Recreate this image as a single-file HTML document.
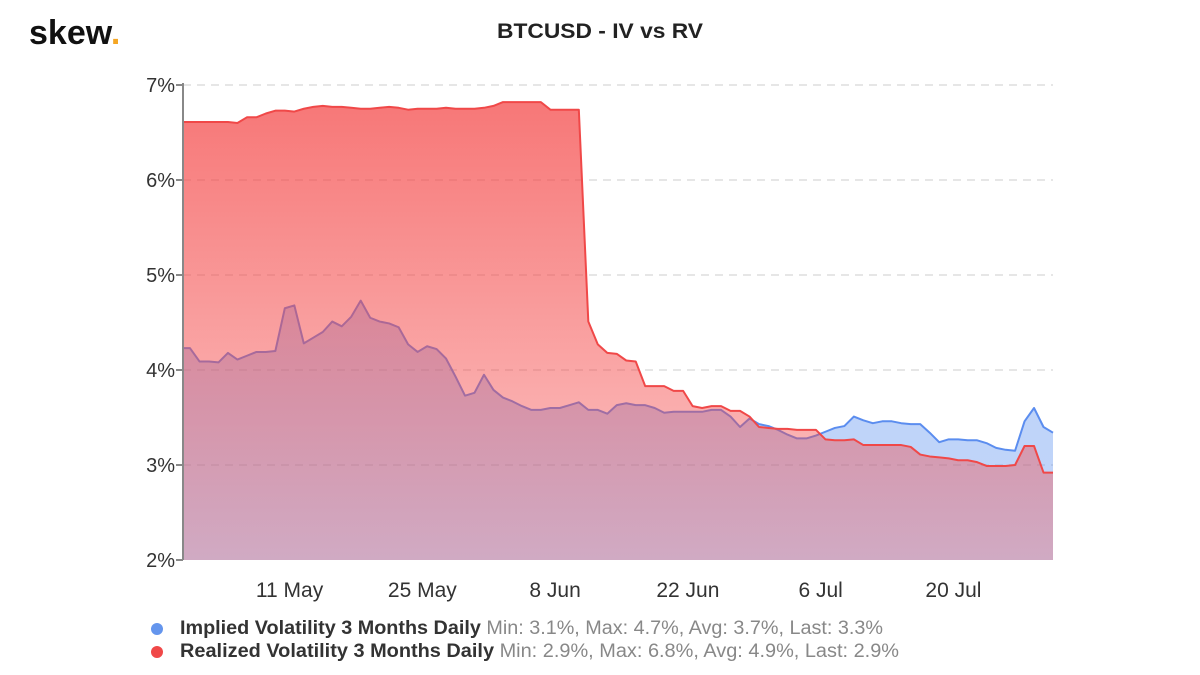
<!DOCTYPE html>
<html><head><meta charset="utf-8"><style>
body{margin:0;background:#fff;width:1200px;height:670px;overflow:hidden;font-family:"Liberation Sans",sans-serif;}
</style></head><body>
<svg width="1200" height="670">
<defs>
<linearGradient id="rg" x1="0" y1="85" x2="0" y2="560" gradientUnits="userSpaceOnUse">
<stop offset="0" stop-color="rgb(244,70,70)" stop-opacity="0.75"/>
<stop offset="1" stop-color="rgb(244,70,70)" stop-opacity="0.3"/>
</linearGradient>
<linearGradient id="bg" x1="0" y1="85" x2="0" y2="560" gradientUnits="userSpaceOnUse">
<stop offset="0" stop-color="rgb(100,150,240)" stop-opacity="0.45"/>
<stop offset="1" stop-color="rgb(100,150,240)" stop-opacity="0.4"/>
</linearGradient>
</defs>
<text x="29" y="44" font-size="34" font-weight="bold" fill="#111">skew<tspan fill="#f5a623">.</tspan></text>
<text x="600" y="38" font-size="21" font-weight="bold" fill="#222" text-anchor="middle" textLength="206" lengthAdjust="spacingAndGlyphs">BTCUSD - IV vs RV</text>
<g id="grid"></g>
<g id="series"></g>
<g id="axes"></g>
<g>
<g>
<circle cx="157" cy="629" r="6" fill="#6495ed"/>
<text x="180" y="634" font-size="19" fill="#333" textLength="703" lengthAdjust="spacingAndGlyphs"><tspan font-weight="bold">Implied Volatility 3 Months Daily</tspan><tspan fill="#888"> Min: 3.1%, Max: 4.7%, Avg: 3.7%, Last: 3.3%</tspan></text>
</g>
<g>
<circle cx="157" cy="652" r="6" fill="#f04848"/>
<text x="180" y="657" font-size="19" fill="#333" textLength="719" lengthAdjust="spacingAndGlyphs"><tspan font-weight="bold">Realized Volatility 3 Months Daily</tspan><tspan fill="#888"> Min: 2.9%, Max: 6.8%, Avg: 4.9%, Last: 2.9%</tspan></text>
</g>
</g>
</svg>
<script>
const ivValues=[4.23,4.09,4.09,4.08,4.18,4.11,4.15,4.19,4.19,4.20,4.65,4.68,4.28,4.34,4.40,4.51,4.46,4.56,4.73,4.55,4.51,4.49,4.45,4.27,4.19,4.25,4.22,4.12,3.93,3.73,3.76,3.95,3.79,3.71,3.67,3.62,3.58,3.58,3.60,3.60,3.63,3.66,3.58,3.58,
3.54,3.63,3.65,3.63,3.63,3.60,3.55,3.56,3.56,3.56,3.56,3.58,3.58,3.51,3.40,3.49,3.43,3.41,3.37,3.32,3.28,3.28,3.31,3.35,3.39,3.41,3.51,3.47,3.44,3.46,3.46,3.44,3.43,3.43,3.34,3.24,3.27,3.27,3.26,3.26,3.23,3.18,3.16,3.15,3.46,3.60,3.40,3.34];
const rvValues=[6.61,6.61,6.61,6.61,6.61,6.60,6.66,6.66,6.70,6.73,6.73,6.72,6.75,6.77,6.78,6.77,6.77,6.76,6.75,6.75,6.76,6.77,6.76,6.74,6.75,6.75,6.75,6.76,6.75,6.75,6.75,6.76,6.78,6.82,6.82,6.82,6.82,6.82,6.74,6.74,6.74,6.74,4.51,4.27,
4.18,4.17,4.10,4.09,3.83,3.83,3.83,3.78,3.78,3.62,3.60,3.62,3.62,3.57,3.57,3.51,3.40,3.39,3.38,3.38,3.37,3.37,3.37,3.27,3.26,3.26,3.27,3.21,3.21,3.21,3.21,3.21,3.19,3.11,3.09,3.08,3.07,3.05,3.05,3.03,2.99,2.99,2.99,3.00,3.20,3.20,2.92,2.92];
const yTicks=[2,3,4,5,6,7];
const xTickLabels=["11 May","25 May","8 Jun","22 Jun","6 Jul","20 Jul"];
const xTickIdx=[10.5,24.5,38.5,52.5,66.5,80.5];
const NS="http://www.w3.org/2000/svg";
const X0=190,X1=1053,Y0=560,Y1=85,AX=183;
const n=ivValues.length;
const xs=i=>X0+i*(X1-X0)/(n-1);
const ys=v=>Y0-(v-2)*(Y0-Y1)/5;
function mk(t,a,p){const e=document.createElementNS(NS,t);for(const k in a)e.setAttribute(k,a[k]);p.appendChild(e);return e;}
const grid=document.getElementById('grid'),ser=document.getElementById('series'),ax=document.getElementById('axes');
yTicks.forEach(v=>{
  if(v>2){const g=mk('line',{x1:AX,x2:1053,y1:ys(v),y2:ys(v),stroke:'#e6e6e6','stroke-width':2,'stroke-dasharray':'8,6'},grid);
  
  }
  const tk=mk('line',{x1:AX-7,x2:AX,y1:ys(v),y2:ys(v),stroke:'#888','stroke-width':2},ax);
  
  
  const t=mk('text',{x:AX-8,y:ys(v)+7,'font-size':20,fill:'#333','text-anchor':'end'},ax);
  t.textContent=v+'%';
  
  
});
const yl=mk('line',{x1:AX,x2:AX,y1:Y1-2,y2:Y0,stroke:'#888','stroke-width':2},ax);


xTickLabels.forEach((l,k)=>{
  const t=mk('text',{x:xs(xTickIdx[k]),y:597,'font-size':21,fill:'#333','text-anchor':'middle'},ax);
  t.textContent=l;
  
  
});
function series(vals,fill,stroke,name){
  let pts=vals.map((v,i)=>xs(i)+','+ys(v));
  const a=mk('path',{d:'M'+AX+','+ys(vals[0])+' L'+pts.join(' L')+' L'+X1+','+Y0+' L'+AX+','+Y0+'Z',fill:fill},ser);
  
  
  const l=mk('path',{d:'M'+AX+','+ys(vals[0])+' L'+pts.join(' L'),fill:'none',stroke:stroke,'stroke-width':2,'stroke-linejoin':'round'},ser);
  
  
}
series(ivValues,'url(#bg)','#5b8def','iv');
series(rvValues,'url(#rg)','#f04848','rv');
</script>
</body></html>
